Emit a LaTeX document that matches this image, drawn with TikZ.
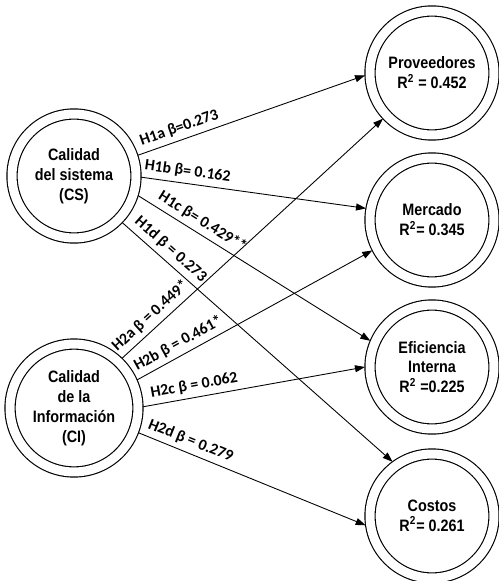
\documentclass[tikz,border=0pt]{standalone}
\usepackage{fontspec}
\usepackage{tikz}
\usetikzlibrary{positioning,arrows.meta}
\newfontfamily\narrowfont{Liberation Sans}[FakeStretch=0.87]
\newfontfamily\pathfont{Carlito}
\newcommand{\rsq}{R\textsuperscript{2}}
\tikzset{
  lat/.style={circle,draw,double,double distance=0.18cm,line width=0.65pt,
    minimum size=2.48cm,outer sep=0.1cm,align=center,
    font=\narrowfont\bfseries\fontsize{9.4}{11.3}\selectfont},
  ar/.style={-{Triangle[length=0.2cm,width=0.14cm]},line width=0.5pt},
  hyp/.style={sloped,above=0.06cm,inner sep=1pt,pos=0.2,
    font=\pathfont\bfseries\fontsize{9}{10}\selectfont},
}
\begin{document}
\begin{tikzpicture}[x=0.02cm,y=-0.02cm]
  \useasboundingbox (0,0) rectangle (499,581);
  % exogenous
  \node[lat] (cs) at (74,176) {Calidad\\del sistema\\(CS)};
  \node[lat] (ci) at (74,408) {Calidad\\de la\\Información\\(CI)};
  % endogenous
  \node[lat] (prov) at (432,73) {Proveedores\\\rsq{} = 0.452};
  \node[lat] (merc) at (432,220) {Mercado\\\rsq= 0.345};
  \node[lat] (efic) at (432,367) {Eficiencia\\Interna\\\rsq{} =0.225};
  \node[lat] (cost) at (432,516) {Costos\\\rsq= 0.261};
  % paths
  \draw[ar] (cs.18) -- node[hyp] {H1a β=0.273} (prov.182);
  \draw[ar] (cs.-1) -- node[hyp] {H1b β= 0.162} (merc.170);
  \draw[ar] (cs.-17) -- node[hyp,pos=0.25] {H1c β= 0.429**} (efic.157);
  \draw[ar] (cs.-44) -- node[hyp,pos=0.15] {H1d β = 0.273} (cost.126);
  \draw[ar] (ci.46) -- node[hyp,pos=0.14] {H2a β = 0.449*} (prov.223);
  \draw[ar] (ci.24) -- node[hyp] {H2b β = 0.461*} (merc.207);
  \draw[ar] (ci.1) -- node[hyp,pos=0.24] {H2c β = 0.062} (efic.180);
  \draw[ar] (ci.-21) -- node[hyp,pos=0.21] {H2d β = 0.279} (cost.188);
\end{tikzpicture}
\end{document}
